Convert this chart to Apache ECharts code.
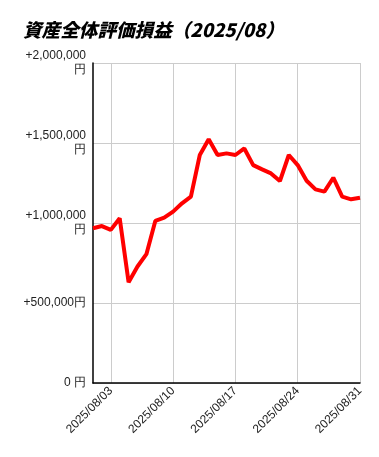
<!DOCTYPE html>
<html>
<head>
<meta charset="utf-8">
<script src="https://cdn.jsdelivr.net/npm/echarts@6/dist/echarts.min.js"></script>
<style>
html,body{margin:0;padding:0;background:#fff;}
#c{width:379px;height:457px;}
</style>
</head>
<body>
<div id="c"></div>
<script>
var titleText = '資産全体評価損益（2025/08）';
var dates = ['2025/08/01','2025/08/02','2025/08/03','2025/08/04','2025/08/05','2025/08/06','2025/08/07','2025/08/08','2025/08/09','2025/08/10','2025/08/11','2025/08/12','2025/08/13','2025/08/14','2025/08/15','2025/08/16','2025/08/17','2025/08/18','2025/08/19','2025/08/20','2025/08/21','2025/08/22','2025/08/23','2025/08/24','2025/08/25','2025/08/26','2025/08/27','2025/08/28','2025/08/29','2025/08/30','2025/08/31'];
var values = [967000,981000,957000,1030000,630000,728000,805000,1013000,1033000,1071000,1123000,1165000,1425000,1523000,1425000,1435000,1425000,1466000,1362000,1335000,1310000,1262000,1425000,1362000,1264000,1210000,1196000,1283000,1165000,1148000,1158000];
var yTicks = [0,500000,1000000,1500000,2000000];

function fmtY(v){
  if (v === 0) return '0 円';
  var s = '+' + v.toLocaleString('en-US');
  if (v >= 1000000) return s + '\n円';
  return s + '円';
}
function showIdx(i){ return (i - 2) % 7 === 0 && i >= 2; }

var chart = echarts.init(document.getElementById('c'), null, {renderer:'canvas'});
chart.setOption({
  animation:false,
  title:{
    text:titleText, left:18, top:16,
    textStyle:{fontSize:18.6, fontWeight:900, fontStyle:'italic', color:'#000', fontFamily:'"Noto Sans CJK JP", sans-serif'}
  },
  grid:{left:93, right:19, top:63, bottom:74, containLabel:false},
  xAxis:{
    type:'category', data:dates, boundaryGap:false,
    axisLine:{lineStyle:{color:'#000', width:1.5}},
    axisTick:{show:false},
    axisLabel:{interval:function(i){return showIdx(i);}, rotate:45, fontSize:12, color:'#222', margin:6, fontFamily:'"Liberation Sans", Arial, sans-serif'},
    splitLine:{show:true, interval:function(i){return showIdx(i);}, lineStyle:{color:'#ccc', width:1}}
  },
  yAxis:{
    type:'value', min:yTicks[0], max:yTicks[yTicks.length-1], interval:500000,
    axisLine:{show:true, lineStyle:{color:'#000', width:1.5}},
    axisTick:{show:false},
    axisLabel:{formatter:fmtY, fontSize:12, color:'#222', margin:7, lineHeight:14, align:'right', fontFamily:'"Liberation Sans", Arial, sans-serif'},
    splitLine:{show:true, lineStyle:{color:'#ccc', width:1}}
  },
  series:[{
    type:'line', data:values, showSymbol:false, symbol:'none',
    lineStyle:{color:'#ff0000', width:4}, itemStyle:{color:'#ff0000'}
  }]
});
</script>
</body>
</html>
